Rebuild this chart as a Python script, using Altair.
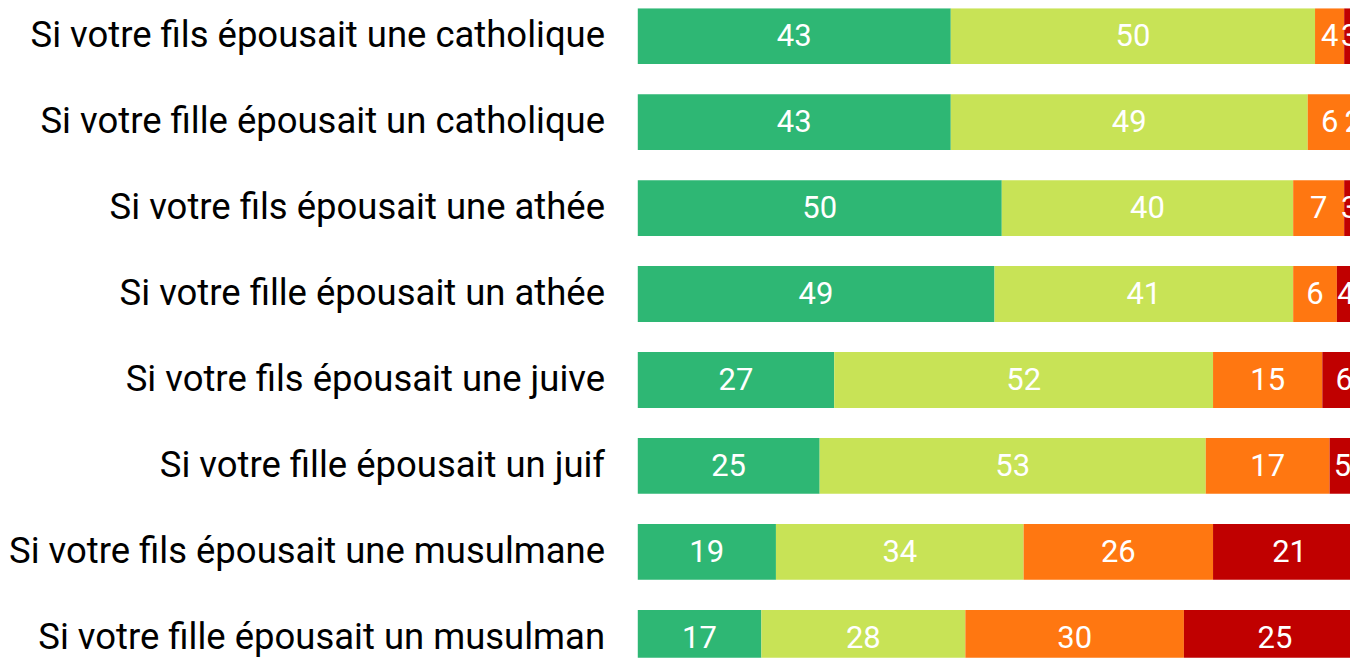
import altair as alt
import pandas as pd

questions = [
    "Si votre fils épousait une catholique",
    "Si votre fille épousait un catholique",
    "Si votre fils épousait une athée",
    "Si votre fille épousait un athée",
    "Si votre fils épousait une juive",
    "Si votre fille épousait un juif",
    "Si votre fils épousait une musulmane",
    "Si votre fille épousait un musulman",
]
categories = ["cat1", "cat2", "cat3", "cat4"]
cat1 = [43, 43, 50, 49, 27, 25, 19, 17]
cat2 = [50, 49, 40, 41, 52, 53, 34, 28]
cat3 = [4, 6, 7, 6, 15, 17, 26, 30]
cat4 = [3, 2, 3, 4, 6, 5, 21, 25]
colors = ["#2EB774", "#C8E356", "#FF7711", "#C00000"]

rows = []
for qi, q in enumerate(questions):
    for ci, (c, vals) in enumerate(zip(categories, [cat1, cat2, cat3, cat4])):
        rows.append({"question": q, "cat": c, "order": ci, "value": vals[qi]})
df = pd.DataFrame(rows)

XMAX = 97.8

base = alt.Chart(df).transform_stack(
    stack="value", groupby=["question"], as_=["x0", "x1"],
    sort=[alt.SortField("order", order="ascending")]
).transform_calculate(
    mid="(datum.x0 + datum.x1) / 2"
).transform_calculate(
    # labels that run past the visible edge are nudged so a part of them stays visible
    pos=f"datum.mid > {XMAX - 0.8} ? datum.mid - 0.75 : datum.mid"
)

y = alt.Y("question:N", sort=questions, title=None,
          scale=alt.Scale(paddingInner=0.35, paddingOuter=0, range=[0, 658]),
          axis=alt.Axis(domain=False, ticks=False, labelFont="Roboto",
                        labelFontSize=36.5, labelColor="#000000", labelPadding=33,
                        labelLimit=0, minExtent=629, maxExtent=629, labelBaseline="middle"))
xs = alt.Scale(domain=[0, XMAX], nice=False, zero=True)

bars = base.mark_bar(clip=True).encode(
    x=alt.X("x0:Q", scale=xs, axis=None),
    x2="x1:Q",
    y=y,
    color=alt.Color("cat:N", scale=alt.Scale(domain=categories, range=colors), legend=None),
)
texts = base.mark_text(clip=True, color="white", font="Roboto", fontSize=31,
                       baseline="middle", dy=1).encode(
    x=alt.X("pos:Q", scale=xs, axis=None),
    y=y,
    text="value:Q",
)

chart = (bars + texts).properties(width=713, height=650, padding=0).configure_view(stroke=None)
chart.save("out.html", embed_options={"renderer": "svg", "actions": False})
